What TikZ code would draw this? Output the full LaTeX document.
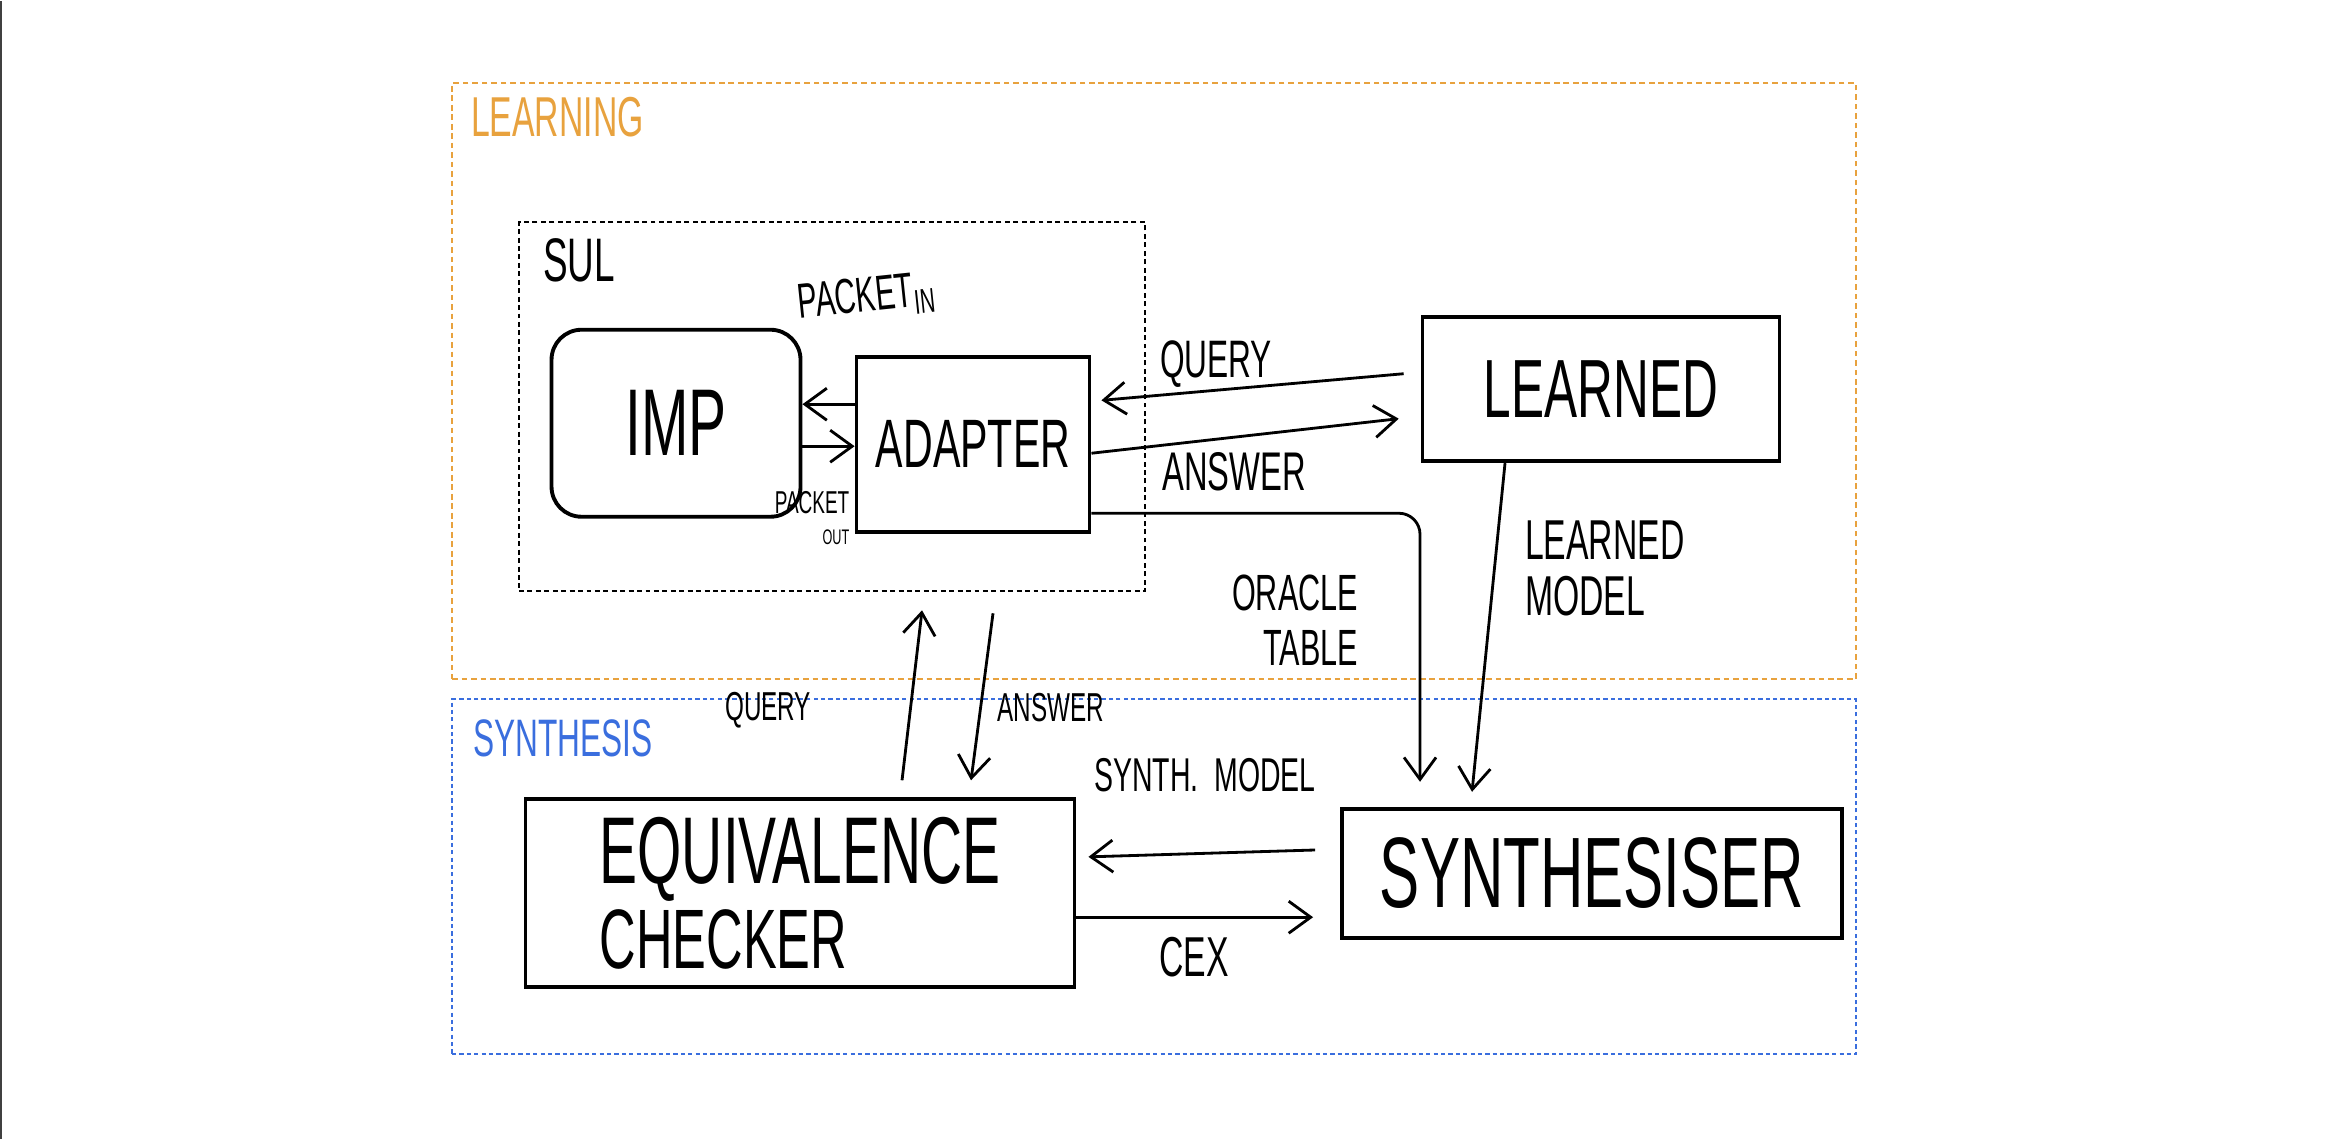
\documentclass[tikz,border=0pt]{standalone}
\usepackage{fontspec}
\usepackage{tikz}
\usetikzlibrary{arrows.meta}
\newfontfamily\handfont[FakeStretch=0.6]{Liberation Sans}
\definecolor{learnorange}{RGB}{232,162,62}
\definecolor{synthblue}{RGB}{58,110,222}
\tikzset{hand/.style={font=\handfont\fontsize{#1}{#1}\selectfont}}

\begin{document}
\begin{tikzpicture}[->,>={Straight Barb[length=2.2mm,width=3.2mm]},thick,x=1cm,y=1cm]
\tikzstyle{box}=[draw=black,line width=1.1pt,rectangle,inner sep=0pt]
\tikzstyle{frame}=[rectangle,line width=0.6pt,inner sep=0pt]

\fill[white] (0,0) rectangle (23.25,-11.38);
\draw[-,line width=0.7pt,black!75] (0.012,0) -- (0.012,-11.38);

% frames
\node[frame,draw=learnorange,dash pattern=on 1.6pt off 1.1pt,minimum width=14.04cm,minimum height=5.96cm] (learning) at (11.54,-3.80) {};
\node[frame,draw=synthblue,dash pattern=on 1.2pt off 0.9pt,minimum width=14.04cm,minimum height=3.55cm] (synthesis) at (11.54,-8.755) {};
\node[frame,draw=black,dash pattern=on 1.4pt off 1pt,minimum width=6.26cm,minimum height=3.69cm] (sul) at (8.32,-4.055) {};
\node[hand=16,text=learnorange,anchor=west] (learnlbl) at (4.58,-1.16) {LEARNING};
\node[hand=15,text=synthblue,anchor=west] (synthlbl) at (4.60,-7.37) {SYNTHESIS};
\node[hand=17.5,anchor=west] (sullbl) at (5.30,-2.59) {SUL};

% boxes
\node[box,rounded corners=3mm,minimum width=2.49cm,minimum height=1.87cm,hand=27] (imp) at (6.76,-4.22) {IMP};
\node[box,minimum width=2.33cm,minimum height=1.75cm,hand=19.5] (adapter) at (9.73,-4.43) {ADAPTER};
\node[box,minimum width=3.57cm,minimum height=1.44cm,hand=23.5] (learned) at (16.01,-3.88) {LEARNED};
\node[box,minimum width=5.49cm,minimum height=1.88cm,align=left,hand=27] (eq) at (8.00,-8.92) {EQUIVALENCE\\[-3pt]{\fontsize{24}{24}\selectfont CHECKER}};
\node[box,minimum width=5.00cm,minimum height=1.29cm,hand=28.5] (synth) at (15.92,-8.72) {SYNTHESISER};

% labels
\node[hand=14,rotate=6] (pktin) at (8.67,-2.97) {PACKET\textsubscript{IN}};
\node[hand=9,align=right] (pktout) at (8.12,-5.17) {PACKET\\{\fontsize{6}{6}\selectfont OUT}};
\node[hand=15] (querylbl) at (12.16,-3.63) {QUERY};
\node[hand=15.5] (answerlbl) at (12.34,-4.71) {ANSWER};
\node[hand=14.5,align=right] (oraclelbl) at (12.95,-6.19) {ORACLE\\[1pt]TABLE};
\node[hand=16,align=left,anchor=west] (modellbl) at (15.12,-5.67) {LEARNED\\MODEL};
\node[hand=11.5] (eqquerylbl) at (7.68,-7.09) {QUERY};
\node[hand=11.5] (eqanswerlbl) at (10.51,-7.06) {ANSWER};
\node[hand=13.5] (synthmodellbl) at (12.05,-7.74) {SYNTH.\ \ MODEL};
\node[hand=16] (cexlbl) at (11.94,-9.56) {CEX};

% connectors
\draw ([yshift=4mm]adapter.west) -- ([yshift=4mm]adapter.west -| imp.east);
\draw ([yshift=-2.3mm]imp.east) -- ([yshift=-2.3mm]imp.east -| adapter.west);
\draw[shorten <=1.7mm,shorten >=1mm] ([yshift=1.7mm]learned.west) -- ([yshift=4.3mm]adapter.east);
\draw[shorten >=2.2mm] ([yshift=-0.9mm]adapter.east) -- ([yshift=-2.7mm]learned.west);
\draw[rounded corners=6pt] ([yshift=-6.9mm]adapter.east) -| ([xshift=-17.2mm,yshift=2.5mm]synth.north);
\draw ([xshift=-9.6mm]learned.south) -- ([xshift=-12mm,yshift=1.5mm]synth.north);
\draw[shorten <=2.5mm,shorten >=1.2mm] ([yshift=2.4mm]synth.west) -- ([yshift=3.6mm]eq.east);
\draw[shorten >=2.7mm] ([yshift=-2.4mm]eq.east) -- ([yshift=-2.4mm]eq.east -| synth.west);
\draw ([xshift=10.2mm,yshift=1.7mm]eq.north) -- ([xshift=9mm,yshift=-1.8mm]sul.south);
\draw ([xshift=16.1mm,yshift=-2.1mm]sul.south) -- ([xshift=17.1mm,yshift=1.7mm]eq.north);
\end{tikzpicture}
\end{document}
